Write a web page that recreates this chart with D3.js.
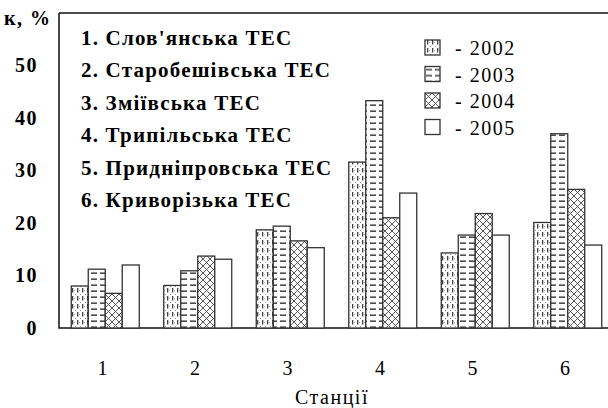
<!DOCTYPE html>
<meta charset="utf-8">
<style>
body{margin:0;background:#fff;}
svg text{font-family:"Liberation Serif",serif;fill:#000;}
.lbl{font-size:20px;font-weight:bold;letter-spacing:1.5px;}
.names{font-size:21px;font-weight:bold;letter-spacing:1.2px;}
.years{font-size:20px;font-weight:normal;letter-spacing:1.5px;}
.plain{font-size:20px;font-weight:normal;letter-spacing:1.5px;}
</style>
<svg width="608" height="408"></svg>
<script src="https://cdn.jsdelivr.net/npm/d3@7"></script>
<script>

var stations=["1","2","3","4","5","6"];
var years=["2002","2003","2004","2005"];
var v2002=[8.0,8.1,18.7,31.6,14.3,20.1];
var v2003=[11.2,10.9,19.4,43.3,17.7,37.0];
var v2004=[6.6,13.7,16.6,21.0,21.8,26.4];
var v2005=[12.0,13.1,15.3,25.7,17.7,15.8];
var yTicks=[0,10,20,30,40,50];
var stationNames=["1. Слов'янська ТЕС","2. Старобешівська ТЕС","3. Зміївська ТЕС",
  "4. Трипільська ТЕС","5. Придніпровська ТЕС","6. Криворізька ТЕС"];

var series=[v2002,v2003,v2004,v2005];

var svg=d3.select("svg");
var mLeft=59,mRight=614,mTop=13,mBottom=328;

var x=d3.scaleBand().domain(stations).range([mLeft,mRight]).paddingInner(0.265).paddingOuter(0.1325);
var xs=d3.scaleBand().domain(years).range([0,x.bandwidth()]);
var y=d3.scaleLinear().domain([0,60]).range([mBottom,mTop]);

// fill patterns
var defs=svg.append("defs");
var p1=defs.append("pattern").attr("id","p2002").attr("patternUnits","userSpaceOnUse")
  .attr("width",5).attr("height",8);
p1.append("rect").attr("width",5).attr("height",8).attr("fill","#fff");
p1.append("rect").attr("x",2).attr("y",0).attr("width",1.3).attr("height",4.5).attr("fill","#444");
p1.append("rect").attr("x",0).attr("y",6).attr("width",1).attr("height",1).attr("fill","#999");
p1.append("rect").attr("x",4).attr("y",2).attr("width",1).attr("height",1).attr("fill","#aaa");

var p2=defs.append("pattern").attr("id","p2003").attr("patternUnits","userSpaceOnUse")
  .attr("width",9).attr("height",6);
p2.append("rect").attr("width",9).attr("height",6).attr("fill","#fff");
p2.append("rect").attr("x",1).attr("y",2.5).attr("width",6).attr("height",1.3).attr("fill","#222");

var p3=defs.append("pattern").attr("id","p2004").attr("patternUnits","userSpaceOnUse")
  .attr("width",7).attr("height",7);
p3.append("rect").attr("width",7).attr("height",7).attr("fill","#fff");
p3.append("path").attr("d","M0,0L7,7M7,0L0,7").attr("stroke","#444").attr("stroke-width",0.9);

var fills=["url(#p2002)","url(#p2003)","url(#p2004)","#fff"];

// frame
svg.append("path").attr("d","M"+mLeft+","+mTop+"L"+(mRight+10)+","+mTop)
  .attr("stroke","#111").attr("stroke-width",1.5);
svg.append("path").attr("d","M"+mLeft+","+mTop+"L"+mLeft+","+mBottom+"L"+(mRight+10)+","+mBottom)
  .attr("fill","none").attr("stroke","#111").attr("stroke-width",1.5);

// bars
var g=svg.append("g");
series.forEach(function(vals,si){
  g.selectAll(".b"+si).data(vals).enter().append("rect")
    .attr("x",function(d,i){return x(stations[i])+xs(years[si]);})
    .attr("y",function(d){return y(d);})
    .attr("width",xs.bandwidth())
    .attr("height",function(d){return y(0)-y(d);})
    .attr("fill",fills[si])
    .attr("stroke","#333").attr("stroke-width",1.3);
});

// y labels
svg.selectAll(".yt").data(yTicks).enter().append("text").attr("class","lbl")
  .attr("x",38).attr("y",function(d){return y(d)+2;})
  .attr("text-anchor","end").attr("dominant-baseline","middle")
  .text(function(d){return d;});
svg.append("text").attr("class","lbl").attr("x",4).attr("y",25).text("к, %");

// x labels
svg.selectAll(".xt").data(stations).enter().append("text").attr("class","plain")
  .attr("x",function(d){return x(d)+x.bandwidth()/2-2;}).attr("y",375)
  .attr("text-anchor","middle").text(function(d){return d;});
svg.append("text").attr("class","plain").attr("x",332).attr("y",404)
  .attr("text-anchor","middle").text("Станції");

// station list
svg.selectAll(".nm").data(stationNames).enter().append("text").attr("class","names")
  .attr("x",81).attr("y",function(d,i){return 45+i*32.4;}).text(function(d){return d;});

// year legend
var lg=svg.selectAll(".lg").data(years).enter().append("g")
  .attr("transform",function(d,i){return "translate(425,"+(40+i*26.5)+")";});
lg.append("rect").attr("width",15).attr("height",15)
  .attr("fill",function(d,i){return fills[i];}).attr("stroke","#333").attr("stroke-width",1.3);
lg.append("text").attr("class","years").attr("x",30).attr("y",15).text(function(d){return "- "+d;});

</script>
